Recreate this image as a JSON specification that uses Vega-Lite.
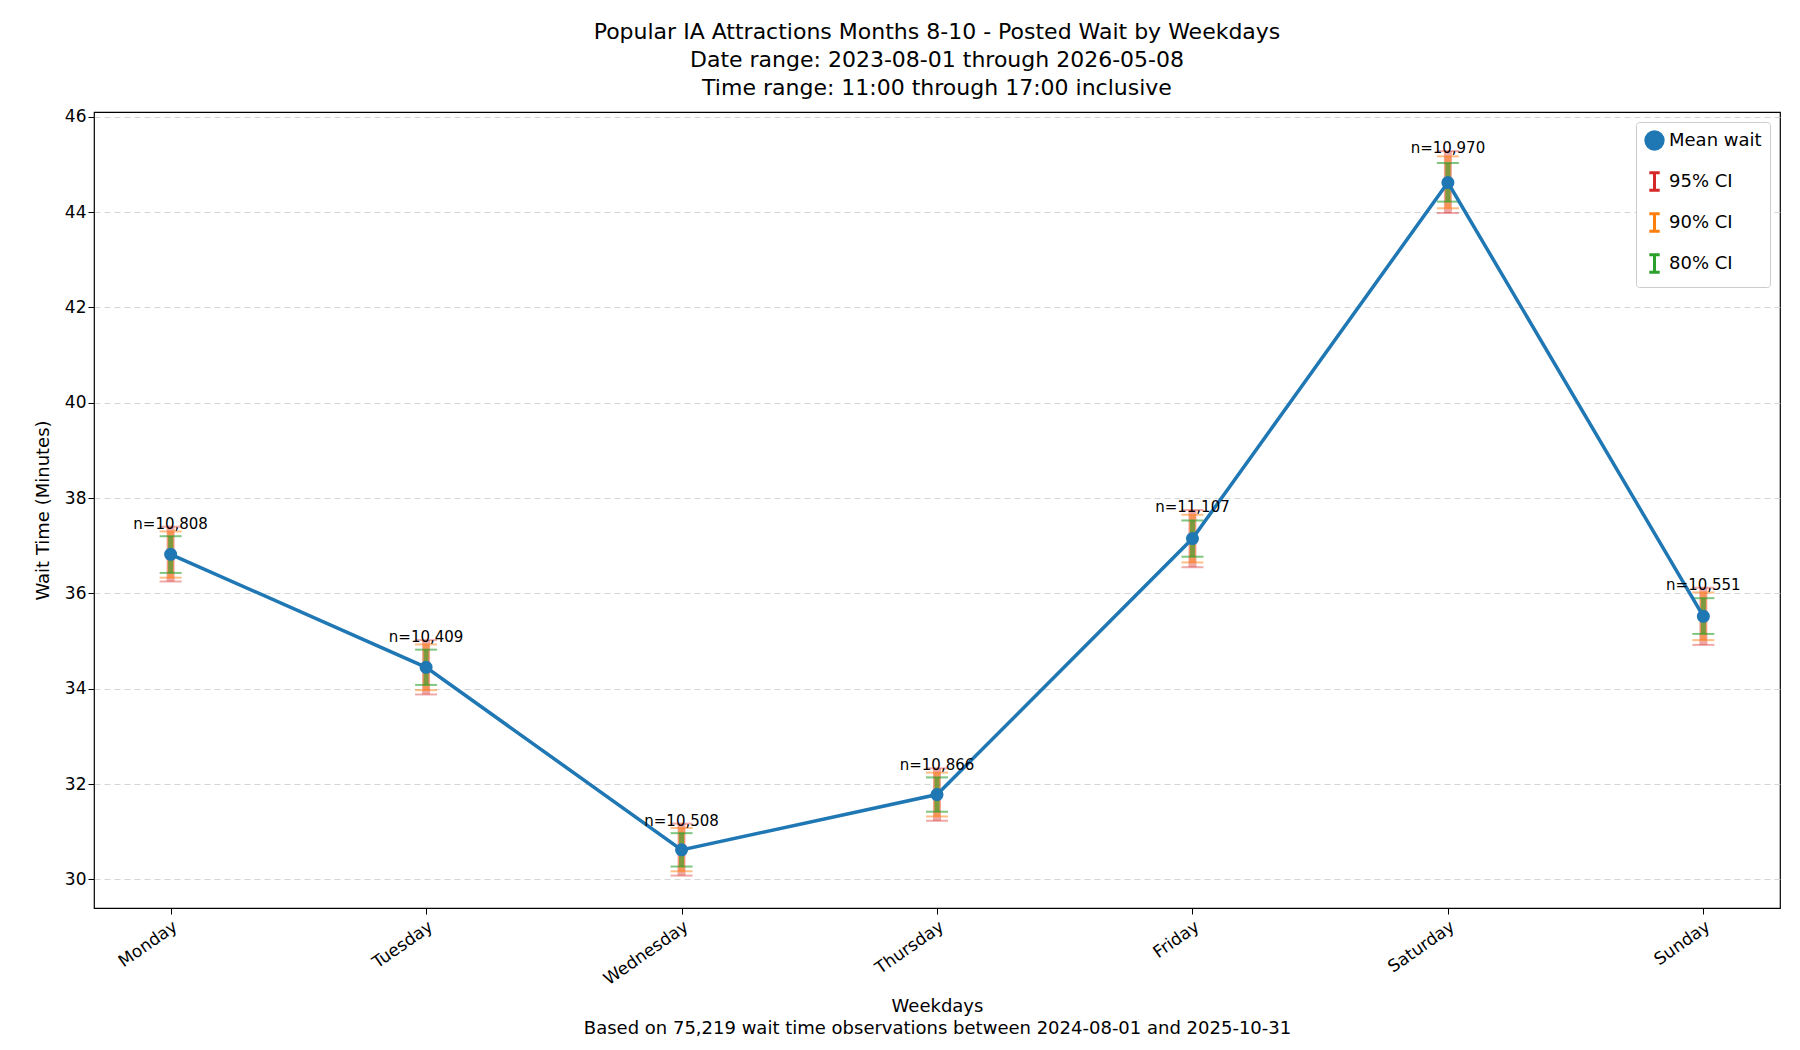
{
  "$schema": "https://vega.github.io/schema/vega-lite/v6.json",
  "width": 1800,
  "height": 1050,
  "autosize": {"type": "fit", "contains": "padding"},
  "padding": {"left": 18, "right": 20, "top": 22, "bottom": 12},
  "background": "white",
  "config": {
    "font": "DejaVu Sans",
    "view": {"stroke": "black", "strokeWidth": 1.2},
    "axis": {"labelFontSize": 17, "titleFontSize": 18, "labelColor": "black", "titleColor": "black", "domain": false, "tickColor": "black", "titleFontWeight": "normal"}
  },
  "title": {
    "text": ["Popular IA Attractions Months 8-10 - Posted Wait by Weekdays", "Date range: 2023-08-01 through 2026-05-08", "Time range: 11:00 through 17:00 inclusive"],
    "fontSize": 22, "fontWeight": "normal", "lineHeight": 28, "offset": 8
  },
  "datasets": {
    "means": [
      {"day": "Monday", "mean": 36.82, "n": "n=10,808", "top": 37.4, "series": "Mean wait"},
      {"day": "Tuesday", "mean": 34.45, "n": "n=10,409", "top": 35.02, "series": "Mean wait"},
      {"day": "Wednesday", "mean": 30.62, "n": "n=10,508", "top": 31.17, "series": "Mean wait"},
      {"day": "Thursday", "mean": 31.78, "n": "n=10,866", "top": 32.33, "series": "Mean wait"},
      {"day": "Friday", "mean": 37.15, "n": "n=11,107", "top": 37.75, "series": "Mean wait"},
      {"day": "Saturday", "mean": 44.62, "n": "n=10,970", "top": 45.28, "series": "Mean wait"},
      {"day": "Sunday", "mean": 35.52, "n": "n=10,551", "top": 36.12, "series": "Mean wait"}
    ],
    "ci": [
      {"day": "Monday", "series": "95% CI", "lo": 36.25, "hi": 37.4},
      {"day": "Monday", "series": "90% CI", "lo": 36.33, "hi": 37.3},
      {"day": "Monday", "series": "80% CI", "lo": 36.43, "hi": 37.2},
      {"day": "Tuesday", "series": "95% CI", "lo": 33.88, "hi": 35.02},
      {"day": "Tuesday", "series": "90% CI", "lo": 33.97, "hi": 34.93},
      {"day": "Tuesday", "series": "80% CI", "lo": 34.08, "hi": 34.82},
      {"day": "Wednesday", "series": "95% CI", "lo": 30.08, "hi": 31.17},
      {"day": "Wednesday", "series": "90% CI", "lo": 30.17, "hi": 31.08},
      {"day": "Wednesday", "series": "80% CI", "lo": 30.27, "hi": 30.97},
      {"day": "Thursday", "series": "95% CI", "lo": 31.23, "hi": 32.33},
      {"day": "Thursday", "series": "90% CI", "lo": 31.32, "hi": 32.24},
      {"day": "Thursday", "series": "80% CI", "lo": 31.42, "hi": 32.14},
      {"day": "Friday", "series": "95% CI", "lo": 36.55, "hi": 37.75},
      {"day": "Friday", "series": "90% CI", "lo": 36.65, "hi": 37.65},
      {"day": "Friday", "series": "80% CI", "lo": 36.77, "hi": 37.53},
      {"day": "Saturday", "series": "95% CI", "lo": 43.98, "hi": 45.28},
      {"day": "Saturday", "series": "90% CI", "lo": 44.08, "hi": 45.17},
      {"day": "Saturday", "series": "80% CI", "lo": 44.22, "hi": 45.03},
      {"day": "Sunday", "series": "95% CI", "lo": 34.92, "hi": 36.12},
      {"day": "Sunday", "series": "90% CI", "lo": 35.02, "hi": 36.02},
      {"day": "Sunday", "series": "80% CI", "lo": 35.15, "hi": 35.9}
    ]
  },
  "encoding": {
    "x": {
      "field": "day", "type": "ordinal", "sort": null,
      "scale": {"type": "point", "padding": 0.3, "domain": ["Monday", "Tuesday", "Wednesday", "Thursday", "Friday", "Saturday", "Sunday"]},
      "axis": {"labelAngle": -35, "labelAlign": "right", "labelBaseline": "top", "tickSize": 6, "labelPadding": 4, "grid": false,
        "title": ["Weekdays", "Based on 75,219 wait time observations between 2024-08-01 and 2025-10-31"], "titlePadding": 10, "titleLineHeight": 22}
    }
  },
  "layer": [
    {
      "data": {"name": "ci"},
      "mark": {"type": "rule"},
      "encoding": {
        "y": {"field": "lo", "type": "quantitative", "scale": {"domain": [29.4, 46.1], "nice": false, "zero": false},
          "axis": {"title": "Wait Time (Minutes)", "values": [30, 32, 34, 36, 38, 40, 42, 44, 46], "grid": true, "gridDash": [6, 4], "gridColor": "#cccccc", "gridOpacity": 0.8, "tickSize": 6, "titlePadding": 12}},
        "y2": {"field": "hi"},
        "color": {"field": "series", "type": "nominal",
          "scale": {"domain": ["Mean wait", "95% CI", "90% CI", "80% CI"], "range": ["#1f77b4", "#d62728", "#ff7f0e", "#2ca02c"]},
          "legend": {"title": null, "orient": "top-right", "offset": 10, "labelFontSize": 18, "symbolSize": 300, "rowPadding": 10,
            "fillColor": "white", "strokeColor": "#cccccc", "padding": 8, "cornerRadius": 3, "symbolStrokeWidth": 3}},
        "shape": {"field": "series", "type": "nominal",
          "scale": {"domain": ["Mean wait", "95% CI", "90% CI", "80% CI"], "range": ["circle", "M0,-1L0,1M-0.6,-1L0.6,-1M-0.6,1L0.6,1", "M0,-1L0,1M-0.6,-1L0.6,-1M-0.6,1L0.6,1", "M0,-1L0,1M-0.6,-1L0.6,-1M-0.6,1L0.6,1"]}},
        "strokeWidth": {"field": "series", "type": "nominal", "scale": {"domain": ["95% CI", "90% CI", "80% CI"], "range": [8, 5, 3]}, "legend": null},
        "opacity": {"field": "series", "type": "nominal", "scale": {"domain": ["95% CI", "90% CI", "80% CI"], "range": [0.4, 0.6, 0.85]}, "legend": null}
      }
    },
    {
      "data": {"name": "ci"},
      "mark": {"type": "tick", "orient": "horizontal", "size": 22, "thickness": 2},
      "encoding": {
        "y": {"field": "lo", "type": "quantitative"},
        "color": {"field": "series", "type": "nominal"},
        "opacity": {"field": "series", "type": "nominal"}
      }
    },
    {
      "data": {"name": "ci"},
      "mark": {"type": "tick", "orient": "horizontal", "size": 22, "thickness": 2},
      "encoding": {
        "y": {"field": "hi", "type": "quantitative"},
        "color": {"field": "series", "type": "nominal"},
        "opacity": {"field": "series", "type": "nominal"}
      }
    },
    {
      "data": {"name": "means"},
      "mark": {"type": "line", "color": "#1f77b4", "strokeWidth": 3.5},
      "encoding": {"y": {"field": "mean", "type": "quantitative"}}
    },
    {
      "data": {"name": "means"},
      "mark": {"type": "point", "filled": true, "size": 170, "opacity": 1},
      "encoding": {
        "y": {"field": "mean", "type": "quantitative"},
        "color": {"field": "series", "type": "nominal"},
        "shape": {"field": "series", "type": "nominal"}
      }
    },
    {
      "data": {"name": "means"},
      "mark": {"type": "text", "fontSize": 15, "dy": -3, "color": "black"},
      "encoding": {
        "y": {"field": "top", "type": "quantitative"},
        "text": {"field": "n"}
      }
    }
  ]
}
